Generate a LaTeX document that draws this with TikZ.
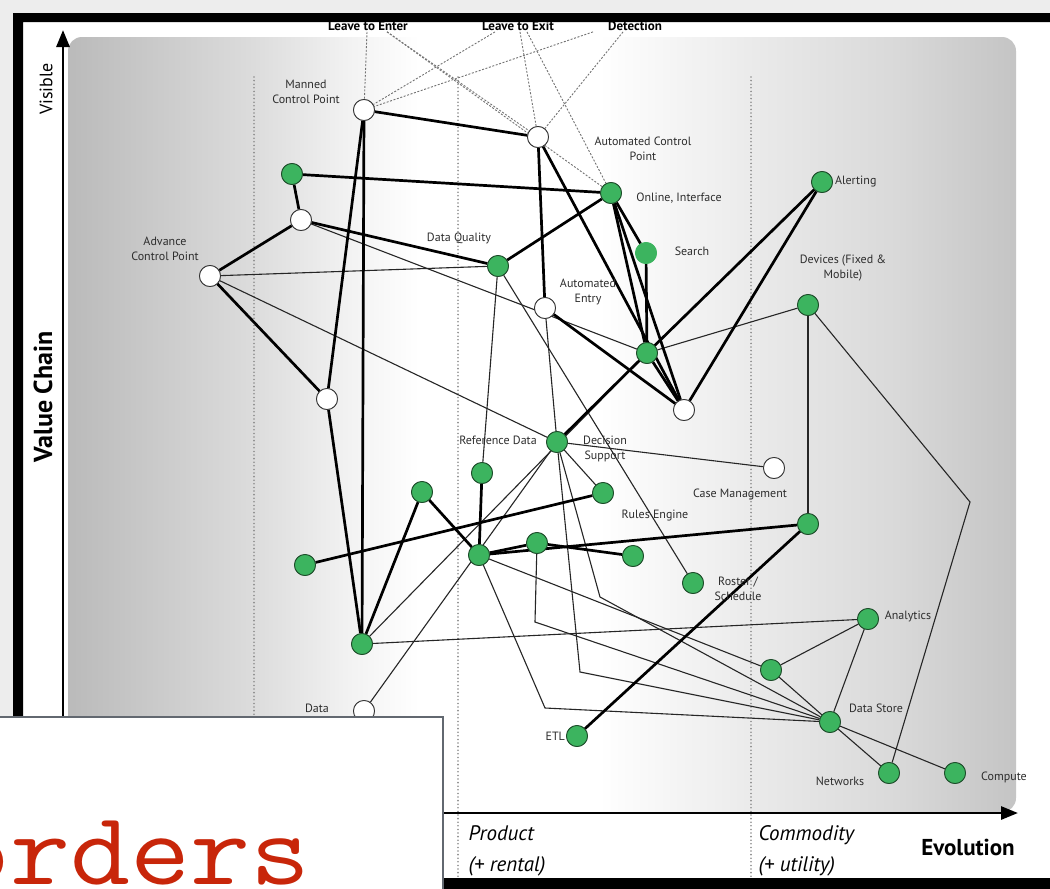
\documentclass[tikz,border=0pt]{standalone}
\usepackage{fontspec}
\usepackage{graphicx}
\setmainfont{PT Sans}
\usetikzlibrary{arrows.meta,positioning,calc}
\definecolor{wmgreen}{RGB}{60,180,95}
\definecolor{wmgreenline}{RGB}{30,75,42}
\definecolor{wmink}{RGB}{45,45,45}
\definecolor{wmbox}{RGB}{98,104,112}
\definecolor{wmred}{RGB}{200,38,10}
\pgfdeclarehorizontalshading{wmpanel}{100bp}{color(0bp)=(black!27); color(25bp)=(black!27);
  color(34.6bp)=(black!14); color(39.9bp)=(black!5); color(43.5bp)=(white); color(53bp)=(white);
  color(61bp)=(black!8); color(68.8bp)=(black!15); color(75bp)=(black!23); color(100bp)=(black!23)}
\tikzset{
  wmnode/.style={circle,line width=0.8pt,minimum size=21pt,inner sep=0pt},
  wmopen/.style={wmnode,draw=black!80,fill=white},
  wmcomp/.style={wmnode,draw=wmgreenline,fill=wmgreen},
  wmlab/.style={align=center,text=wmink,inner sep=1pt,font=\fontsize{12}{15}\selectfont},
  wmtop/.style={inner sep=1pt,font=\bfseries\fontsize{13}{15}\selectfont},
  wmhard/.style={line width=2.7pt,black},
  wmsoft/.style={line width=1.1pt,black!85},
  wmhint/.style={line width=0.9pt,black!55,dash pattern=on 2pt off 1.6pt},
  wmstage/.style={line width=1.8pt,black!45,line cap=round,dash pattern=on 0pt off 3.6pt},
  wmaxis/.style={line width=2.8pt,-{Triangle[length=17pt,width=13pt]}},
  wmstagelab/.style={anchor=west,align=left,font=\itshape\fontsize{21}{31}\selectfont},
}
\begin{document}
\begin{tikzpicture}[x=1pt,y=-1pt]
  \useasboundingbox (0,0) rectangle (1050,889);
  \fill[black!7] (0,0) rectangle (1050,889);
  \fill[white] (23,22) rectangle (1050,878);
  \shade[shading=wmpanel,rounded corners=14pt] (68,37) rectangle (1016,812);
  \foreach \sx in {254,458,751}
    \draw[wmstage] (\sx,77) -- (\sx,885);
  \draw[wmaxis] (63,814) -- (63,30);
  \draw[wmaxis] (61,813) -- (1018,813);
  \node[rotate=90,font=\fontsize{18}{20}\selectfont] (vis) at (46,89) {Visible};
  \node[rotate=90,font=\bfseries\fontsize{26}{28}\selectfont] (vchain) at (43,397) {Value Chain};
  \node[wmstagelab] (prod) at (465,851) {Product\\(+ rental)};
  \node[wmstagelab] (comm) at (755,851) {Commodity\\(+ utility)};
  \node[font=\bfseries\fontsize{23}{25}\selectfont] (evol) at (968,847) {Evolution};

  % user needs along the top edge
  \node[wmtop] (lte) at (368,26) {Leave to Enter};
  \node[wmtop] (ltx) at (518,26) {Leave to Exit};
  \node[wmtop] (det) at (635,26) {Detection};

  % components
  \node[wmopen] (mcp) at (364,110) {};
  \node[wmopen] (acp) at (538,137) {};
  \node[wmcomp] (gA) at (292,174) {};
  \node[wmopen] (wA) at (301,220) {};
  \node[wmopen] (adv) at (210,276) {};
  \node[wmcomp] (oi) at (611,193) {};
  \node[wmcomp] (dq) at (498,266) {};
  \node[wmcomp,draw=wmgreen] (srch) at (646,253) {};
  \node[wmcomp] (alrt) at (822,182) {};
  \node[wmcomp] (dev) at (808,305) {};
  \node[wmopen] (ae) at (545,308) {};
  \node[wmcomp] (hub) at (647,353) {};
  \node[wmopen] (wB) at (327,399) {};
  \node[wmopen] (wC) at (684,410) {};
  \node[wmcomp] (ref) at (557,442) {};
  \node[wmopen] (case) at (774,468) {};
  \node[wmcomp] (gB) at (482,473) {};
  \node[wmcomp] (gC) at (422,492) {};
  \node[wmcomp] (gD) at (603,493) {};
  \node[wmcomp] (gE) at (808,524) {};
  \node[wmcomp] (gF) at (537,543) {};
  \node[wmcomp] (hubB) at (479,555) {};
  \node[wmcomp] (gG) at (633,556) {};
  \node[wmcomp] (gH) at (305,565) {};
  \node[wmcomp] (rost) at (693,583) {};
  \node[wmcomp] (anl) at (868,619) {};
  \node[wmcomp] (gI) at (362,644) {};
  \node[wmcomp] (gJ) at (771,670) {};
  \node[wmopen] (data) at (364,711) {};
  \node[wmcomp] (dst) at (830,722) {};
  \node[wmcomp] (etl) at (577,736) {};
  \node[wmcomp] (net) at (889,773) {};
  \node[wmcomp] (cmp) at (955,773) {};
  \coordinate (bA) at (535,622);
  \coordinate (bB) at (580,672);
  \coordinate (bC) at (545,708);
  \coordinate (bD) at (600,597);
  \coordinate (bE) at (970,502);

  \draw[wmhint] ([xshift=-1pt]lte.south) -- (mcp);
  \draw[wmhint] ([xshift=19pt]lte.south) -- (acp);
  \draw[wmhint] ([xshift=19pt]lte.south) -- (oi);
  \draw[wmhint] ([xshift=-23pt]ltx.south) -- (mcp);
  \draw[wmhint] ([xshift=2pt]ltx.south) -- (acp);
  \draw[wmhint] ([xshift=9pt]ltx.south) -- (oi);
  \draw[wmhint] ([xshift=-42pt]det.south) -- (mcp);
  \draw[wmhint] ([xshift=-12pt]det.south) -- (acp);

  \draw[wmsoft] (wA) -- (hub);
  \draw[wmsoft] (adv) -- (dq);
  \draw[wmsoft] (adv) -- (ref);
  \draw[wmsoft] (dq) -- (gB);
  \draw[wmsoft] (dq) -- (rost);
  \draw[wmsoft] (ae) -- (ref);
  \draw[wmsoft] (hub) -- (dev);
  \draw[wmsoft] (hub) -- (gI);
  \draw[wmsoft] (ref) -- (data);
  \draw[wmsoft] (ref) -- (gD);
  \draw[wmsoft] (ref) -- (case);
  \draw[wmsoft] (dev) -- (gE);
  \draw[wmsoft] (dev) -- (bE) -- (net);
  \draw[wmsoft] (gI) -- (anl);
  \draw[wmsoft] (hubB) -- (gJ);
  \draw[wmsoft] (gF) -- (bA) -- (dst);
  \draw[wmsoft] (ref) -- (bB) -- (dst);
  \draw[wmsoft] (hubB) -- (bC) -- (dst);
  \draw[wmsoft] (ref) -- (bD) -- (dst);
  \draw[wmsoft] (gJ) -- (anl);
  \draw[wmsoft] (gJ) -- (dst);
  \draw[wmsoft] (anl) -- (dst);
  \draw[wmsoft] (dst) -- (net);
  \draw[wmsoft] (dst) -- (cmp);

  \draw[wmhard] (mcp) -- (acp);
  \draw[wmhard] (mcp) -- (gI);
  \draw[wmhard] (mcp) -- (wB);
  \draw[wmhard] (wB) -- (gI);
  \draw[wmhard] (gA) -- (oi);
  \draw[wmhard] (gA) -- (wA);
  \draw[wmhard] (wA) -- (adv);
  \draw[wmhard] (wA) -- (dq);
  \draw[wmhard] (adv) -- (wB);
  \draw[wmhard] (dq) -- (oi);
  \draw[wmhard] (acp) -- (ae);
  \draw[wmhard] (acp) -- (wC);
  \draw[wmhard] (oi) -- (hub);
  \draw[wmhard] (oi) -- (wC);
  \draw[wmhard] (oi) -- (srch);
  \draw[wmhard] (srch) -- (hub);
  \draw[wmhard] (ae) -- (wC);
  \draw[wmhard] (hub) -- (wC);
  \draw[wmhard] (alrt) -- (hub);
  \draw[wmhard] (alrt) -- (wC);
  \draw[wmhard] (hub) -- (ref);
  \draw[wmhard] (gE) -- (etl);
  \draw[wmhard] (hubB) -- (gE);
  \draw[wmhard] (hubB) -- (gF);
  \draw[wmhard] (gF) -- (gG);
  \draw[wmhard] (hubB) -- (gB);
  \draw[wmhard] (hubB) -- (gC);
  \draw[wmhard] (gC) -- (gI);
  \draw[wmhard] (gH) -- (gD);

  % redraw the circles over the lines
  \foreach \n in {mcp,acp,wA,adv,ae,wB,wC,case,data}
    \node[wmopen] at (\n) {};
  \foreach \n in {gA,oi,dq,alrt,dev,hub,ref,gB,gC,gD,gE,gF,hubB,gG,gH,rost,anl,gI,gJ,dst,etl,net,cmp}
    \node[wmcomp] at (\n) {};
  \node[wmcomp,draw=wmgreen] at (srch) {};

  % labels
  \node[wmlab] (lmcp) at (306,92) {Manned\\Control Point};
  \node[wmlab] (lacp) at (643,149) {Automated Control\\Point};
  \node[wmlab] (ladv) at (165,249) {Advance\\Control Point};
  \node[wmlab] (loi) at (679,198) {Online, Interface};
  \node[wmlab] (ldq) at (459,238) {Data Quality};
  \node[wmlab] (lsrch) at (692,251) {Search};
  \node[wmlab,right=1pt of alrt] (lalrt) {Alerting};
  \node[wmlab] (ldev) at (843,268) {Devices (Fixed \&\\Mobile)};
  \node[wmlab] (lae) at (588,292) {Automated\\Entry};
  \node[wmlab] (lref) at (498,440) {Reference Data};
  \node[wmlab] (ldec) at (605,449) {Decision\\Support};
  \node[wmlab] (lcase) at (740,494) {Case Management};
  \node[wmlab] (lrules) at (655,516) {Rules Engine};
  \node[wmlab] (lrost) at (738,589) {Roster /\\Schedule};
  \node[wmlab] (lanl) at (908,616) {Analytics};
  \node[wmlab] (ldst) at (876,708) {Data Store};
  \node[wmlab,left=0pt of etl] (letl) {ETL};
  \node[wmlab] (lnet) at (840,781) {Networks};
  \node[wmlab] (lcmp) at (1004,777) {Compute};
  \node[wmlab] (ldata) at (317,708) {Data};

  % slide frame and the box laid over it
  \fill[black,even odd rule] (13,13) rectangle (1070,900) (23,22) rectangle (1070,878);
  \draw[wmbox,line width=2pt,fill=white] (-5,717) rectangle (443,895);
  \begin{scope}
    \clip (0,718) rectangle (442,889);
    \node[anchor=base west,inner sep=0pt,text=wmred,font=\ttfamily\fontsize{104}{104}\selectfont] (ord) at (-50,884) {\scalebox{1.12}[1]{orders}};
  \end{scope}
\end{tikzpicture}
\end{document}
